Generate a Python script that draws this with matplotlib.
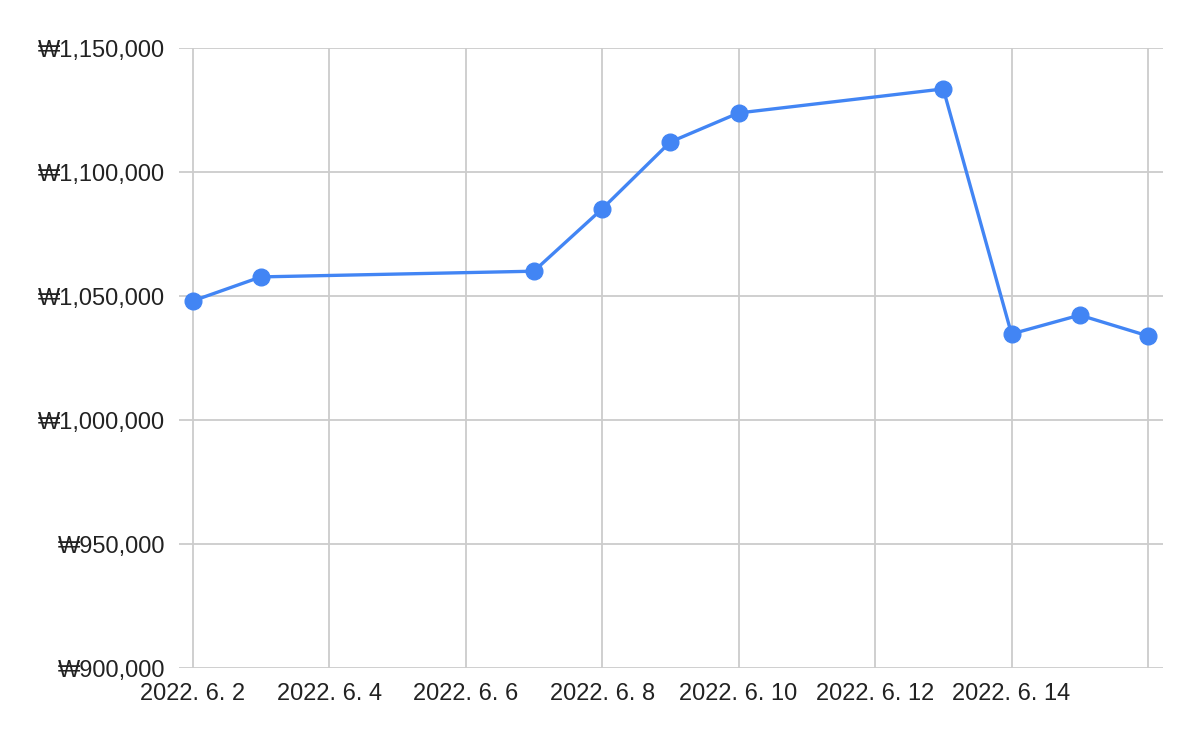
import numpy as np
import matplotlib
matplotlib.use('Agg')
import matplotlib.pyplot as plt
import matplotlib.dates as mdates
from matplotlib.ticker import FuncFormatter, FixedLocator
import datetime as dt

plt.rcParams['font.family'] = ['Liberation Sans', 'DejaVu Sans']

days = [2, 3, 7, 8, 9, 10, 13, 14, 15, 16]
values = [1048000, 1057700, 1060000, 1085100, 1112100, 1123800, 1133500, 1034700, 1042300, 1033900]
grid_days = [2, 4, 6, 8, 10, 12, 14, 16]
label_days = [2, 4, 6, 8, 10, 12, 14]
y_ticks = [900000, 950000, 1000000, 1050000, 1100000, 1150000]

dates = [dt.date(2022, 6, d) for d in days]

fig = plt.figure(figsize=(12, 7.42), dpi=100)
ax = fig.add_axes([179 / 1200, 1 - 668 / 742, (1163 - 179) / 1200, (668 - 48) / 742])

ax.plot(dates, values, color='#4285F4', lw=2.4, marker='o', ms=12, zorder=3)

ax.set_ylim(900000, 1150000)
ax.set_xlim(mdates.date2num(dt.date(2022, 6, 2)) - 0.2, mdates.date2num(dt.date(2022, 6, 16)) + 0.22)
ax.yaxis.set_major_locator(FixedLocator(y_ticks))
ax.yaxis.set_major_formatter(FuncFormatter(lambda v, p: '₩{:,.0f}'.format(v)))

gnum = [mdates.date2num(dt.date(2022, 6, d)) for d in grid_days]
ax.xaxis.set_major_locator(FixedLocator(gnum))
ax.set_xticklabels(['2022. 6. %d' % d if d in label_days else '' for d in grid_days])

ax.grid(True, color='#cccccc', lw=1.3)
ax.set_axisbelow(True)
for s in ax.spines.values():
    s.set_visible(False)
ax.tick_params(length=0, labelsize=17, colors='#222222')
ax.tick_params(axis='y', pad=10)
ax.tick_params(axis='x', pad=11)

fig.savefig('out.png', dpi=100)
